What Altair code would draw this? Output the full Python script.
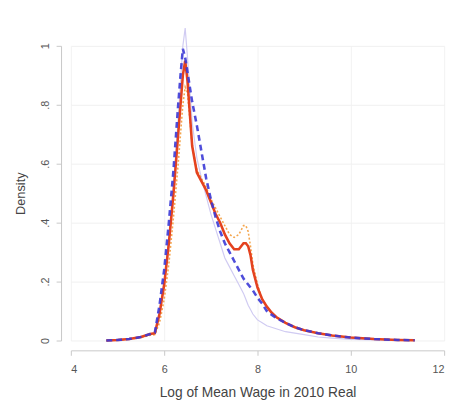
import altair as alt
import pandas as pd

x_grid = [4.76, 5.0, 5.25, 5.5, 5.7, 5.8, 5.9, 6.0, 6.1, 6.2, 6.3, 6.35, 6.4, 6.45, 6.5,
          6.55, 6.6, 6.7, 6.8, 6.9, 7.0, 7.1, 7.2, 7.3, 7.4, 7.5, 7.6, 7.7, 7.75, 7.8,
          7.85, 7.9, 8.0, 8.1, 8.2, 8.3, 8.4, 8.6, 8.8, 9.0, 9.3, 9.6, 10.0, 10.5, 11.0, 11.37]

red_solid = [0, 0.002, 0.005, 0.012, 0.022, 0.025, 0.09, 0.19, 0.33, 0.5, 0.7, 0.8, 0.9, 0.95, 0.88,
             0.77, 0.66, 0.57, 0.54, 0.51, 0.47, 0.43, 0.40, 0.36, 0.33, 0.31, 0.31, 0.33, 0.33, 0.32,
             0.29, 0.24, 0.18, 0.14, 0.115, 0.095, 0.08, 0.06, 0.045, 0.035, 0.025, 0.017, 0.01, 0.005, 0.002, 0.001]

blue_dash = [0, 0.002, 0.005, 0.012, 0.022, 0.027, 0.12, 0.24, 0.40, 0.58, 0.80, 0.90, 0.99, 0.96, 0.91,
             0.86, 0.81, 0.73, 0.64, 0.55, 0.48, 0.42, 0.37, 0.33, 0.30, 0.27, 0.24, 0.21, 0.20, 0.19,
             0.18, 0.17, 0.145, 0.125, 0.10, 0.088, 0.077, 0.06, 0.045, 0.035, 0.025, 0.017, 0.01, 0.005, 0.002, 0.001]

orange_dot = [0, 0.002, 0.005, 0.01, 0.018, 0.02, 0.06, 0.14, 0.26, 0.42, 0.6, 0.7, 0.8, 0.86, 0.84,
              0.75, 0.66, 0.58, 0.55, 0.52, 0.48, 0.45, 0.42, 0.39, 0.36, 0.35, 0.36, 0.39, 0.39, 0.37,
              0.32, 0.26, 0.19, 0.14, 0.115, 0.095, 0.08, 0.06, 0.045, 0.035, 0.025, 0.017, 0.01, 0.005, 0.002, 0.001]

lavender = [0, 0.002, 0.005, 0.012, 0.022, 0.025, 0.1, 0.2, 0.35, 0.53, 0.75, 0.88, 1.0, 1.06, 0.96,
            0.85, 0.74, 0.62, 0.55, 0.49, 0.43, 0.38, 0.33, 0.28, 0.25, 0.22, 0.19, 0.16, 0.14, 0.12,
            0.105, 0.09, 0.07, 0.06, 0.05, 0.045, 0.04, 0.03, 0.025, 0.02, 0.012, 0.008, 0.004, 0.002, 0.001, 0.0]

x_ticks = [4, 6, 8, 10, 12]
y_ticks = [0, 0.2, 0.4, 0.6, 0.8, 1.0]

x_enc = alt.X("x:Q", scale=alt.Scale(domain=[4, 12], nice=False, zero=False),
              axis=alt.Axis(values=x_ticks, title="Log of Mean Wage in 2010 Real", offset=10,
                            grid=True, gridColor="#f2f2f2", domainColor="#c8c8c8", tickColor="#c8c8c8",
                            tickSize=5, labelFontSize=11, labelColor="#555", labelPadding=9,
                            titleFontSize=14, titleColor="#444", titleFontWeight="normal",
                            titlePadding=11, labelFont="Liberation Sans", titleFont="Liberation Sans"))
y_enc = alt.Y("y:Q", scale=alt.Scale(domain=[0, 1], nice=False),
              axis=alt.Axis(values=y_ticks, title="Density", offset=10, labelExpr=
                            "datum.value == 0 ? '0' : datum.value == 1 ? '1' : replace(format(datum.value, '.1f'), '0.', '.')",
                            grid=True, gridColor="#f0f0f0", domainColor="#c8c8c8", tickColor="#c8c8c8",
                            tickSize=5, labelFontSize=11, labelColor="#555", labelAngle=270,
                            labelAlign="center", labelBaseline="bottom", labelPadding=6,
                            titleFontSize=13, titleColor="#444", titleFontWeight="normal",
                            titlePadding=12, labelFont="Liberation Sans", titleFont="Liberation Sans"))


def layer(vals, color, width, dash=None, opacity=1.0):
    df = pd.DataFrame({"x": x_grid, "y": vals})
    kw = dict(color=color, strokeWidth=width, opacity=opacity, clip=False)
    if dash:
        kw["strokeDash"] = dash
    return alt.Chart(df).mark_line(**kw).encode(x=x_enc, y=y_enc)


chart = alt.layer(
    layer(lavender, "#d0cbf2", 1.2),
    layer(orange_dot, "#f4a64e", 1.6, [2, 2]),
    layer(red_solid, "#e4421f", 2.6),
    layer(blue_dash, "#3c3ad6", 2.6, [6, 4], 0.9),
).properties(
    width=380, height=300,
    autosize=alt.AutoSizeParams(type="none"),
    padding={"left": 64, "top": 35, "right": 8, "bottom": 57},
).configure_view(stroke=None)

chart.save("out.html", embed_options={"renderer": "svg", "actions": False})
